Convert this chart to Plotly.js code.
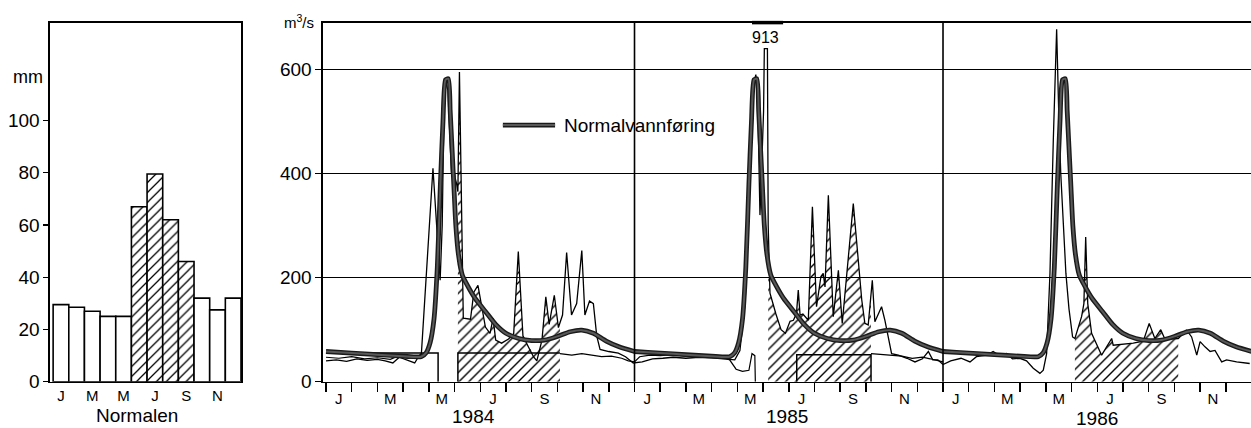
<!DOCTYPE html>
<html><head><meta charset="utf-8">
<script src="https://cdn.plot.ly/plotly-3.0.1.min.js"></script>
<style>html,body{margin:0;padding:0;background:#fff}#chart{width:1251px;height:428px}</style>
</head><body><div id="chart"></div>
<script>
// ---------- data ----------
const precipMonths = ['J','F','M','A','M','J','J','A','S','O','N','D'];
const precipValues = [29.5, 28.5, 27, 25, 25, 67, 79.5, 62, 46, 32, 27.5, 32];
const precipHatched = [false,false,false,false,false,true,true,true,true,false,false,false];
const monthTickText = ['J','M','M','J','S','N'];
const monthTickPos = [0.5, 2.5, 4.5, 6.5, 8.5, 10.5];
const years = [1984, 1985, 1986];

// normal discharge, one year (month of year, m3/s)
const normalMonth = [0,1,2,3,3.7,3.9,4.05,4.2,4.33,4.45,4.55,4.65,4.76,4.83,4.9,4.97,5.05,5.15,5.3,5.5,5.8,6.2,6.6,7.0,7.5,8.0,8.5,9.0,9.5,9.95,10.4,10.9,11.4,12.0];
const normalFlow  = [58,55,52,49,48,56,75,120,220,380,500,580,582,520,450,380,300,245,205,185,160,135,110,93,83,79,80,87,96,99,93,78,67,58];

// observed discharge 1984-1986 (months since Jan 1984, m3/s)
const obsMonth = [0,0.4,0.8,1.2,1.6,2.0,2.3,2.6,2.85,3.1,3.45,3.62,3.71,4.16,4.3,4.44,4.52,4.58,4.65,4.74,4.82,4.88,4.95,5.02,5.08,5.13,5.19,5.26,5.31,5.34,5.62,5.75,5.91,6.05,6.2,6.38,6.5,6.6,6.83,7.1,7.3,7.48,7.66,7.87,8.07,8.2,8.4,8.55,8.68,8.88,9.04,9.2,9.36,9.55,9.75,9.95,10.07,10.25,10.4,10.53,10.66,11.0,11.37,11.65,11.95,
 12.3,12.7,13.1,13.5,14.0,14.5,15.0,15.5,15.9,16.1,16.3,16.45,16.55,16.65,16.72,16.8,16.88,16.96,17.02,17.05,17.17,17.2,17.27,17.5,17.7,17.87,18.05,18.18,18.3,18.37,18.44,18.55,18.76,18.92,19.08,19.25,19.34,19.41,19.54,19.73,19.93,20.08,20.51,20.84,20.96,21.09,21.25,21.35,21.61,21.74,22.0,22.26,22.6,22.91,23.2,23.43,23.6,23.8,24.0,
 24.3,24.7,25.05,25.3,25.7,25.95,26.2,26.47,26.7,26.99,27.25,27.51,27.77,27.9,28.03,28.16,28.29,28.42,28.5,28.58,28.68,28.78,28.9,29.04,29.13,29.39,29.48,29.55,29.63,29.78,30.17,30.49,30.56,30.62,31.0,31.4,31.79,32.02,32.24,32.47,32.63,33.15,33.48,33.67,33.87,34.0,34.19,34.39,34.58,34.84,35.03,35.42,35.93];
const obsFlow = [40,42,39,44,41,43,40,36,47,42,36,50,54,410,300,195,300,500,576,560,470,400,420,392,380,365,595,360,200,122,120,172,185,144,105,93,122,80,74,82,92,250,88,67,48,40,80,163,110,166,104,128,248,128,150,252,128,155,150,88,62,58,55,48,36,
 38,44,45,47,45,47,46,44,42,60,150,330,480,575,590,520,320,430,520,913,913,300,170,130,100,93,116,118,131,176,128,130,118,336,144,202,208,182,358,125,214,112,342,157,112,109,195,115,144,118,54,51,45,38,44,58,42,42,33,
 40,45,38,48,51,58,50,54,44,45,40,26,16,22,54,208,464,677,520,400,304,208,140,86,83,125,150,278,150,93,51,77,83,70,72,74,78,112,83,100,82,83,99,86,51,77,67,58,60,38,42,38,35];
// the 913 peak is drawn truncated below the frame, with its value written above
const peakLabelFlow = 913;
const peakDrawCap = 640;

// regulated (low) discharge, null = no line
const regMonth = [0,0.5,1.0,1.5,2.0,2.5,2.8,3.2,3.6,3.71,null,9.1,9.56,9.95,10.33,10.72,11.1,11.5,11.76,12.0,12.2,12.6,13.0,13.5,14.0,14.5,15.0,15.4,15.7,15.95,16.2,16.45,16.57,16.68,16.7,null,21.2,21.6,22.0,22.4,22.8,23.2,23.5,23.8,24.0];
const regFlow  = [47,45,48,44,46,43,49,45,48,52,null,54,51,54,51,48,49,45,40,38,48,51,50,52,49,51,50,48,42,24,20,22,54,50,0,null,54,52,50,49,45,47,44,40,38];

// step outline (minimum release): 1984 winter block and summer blocks
const stepWinterMonth = [0, 4.36, 4.36];
const stepWinterFlow  = [55, 55, 0];
const stepSummer84Month = [5.13, 5.13, 9.1];
const stepSummer84Flow  = [0, 55, 55];
const stepSummer85Month = [18.31, 18.31, 21.2, 21.2];
const stepSummer85Flow  = [0, 52, 52, 0];

// hatched summer periods (Jun-Sep) under observed discharge (not below the step level)
const hatchStart = [5.13, 17.2, 29.13];
const hatchEnd   = [9.1, 21.2, 33.15];
const hatchFloor = [55, 52, 0];

// ---------- build ----------
const FONT = 'Liberation Sans, Arial, Helvetica, sans-serif';
const normalX = [], normalY = [];
years.forEach((yr, i) => {
  normalMonth.forEach((m, j) => { normalX.push(m + 12 * i); normalY.push(normalFlow[j]); });
});
const obsDrawn = obsFlow.map(v => v >= peakLabelFlow ? peakDrawCap : v);
function interp(xs, ys, x) {
  for (let i = 0; i < xs.length - 1; i++) {
    if (xs[i] <= x && x <= xs[i + 1]) {
      const t = (x - xs[i]) / (xs[i + 1] - xs[i] || 1);
      return ys[i] + t * (ys[i + 1] - ys[i]);
    }
  }
  return ys[ys.length - 1];
}
const pattern = {shape: '/', size: 7, solidity: 0.2, fgcolor: '#000', bgcolor: 'rgba(255,255,255,0)'};
const traces = [];

// left: precipitation normals
traces.push({
  type: 'bar', x: precipMonths.map((_, i) => i), y: precipValues, width: 1,
  xaxis: 'x', yaxis: 'y',
  marker: {color: 'white', line: {color: 'black', width: 1.6},
    pattern: {shape: precipHatched.map(h => h ? '/' : ''), size: 7, solidity: 0.18, fgcolor: 'black', bgcolor: 'white'}},
  hoverinfo: 'skip', showlegend: false
});

// hatch fills
hatchStart.forEach((s, k) => {
  const e = hatchEnd[k], f = hatchFloor[k];
  const hx = [s, s], hy = [0, Math.max(f, interp(obsMonth, obsDrawn, s))];
  obsMonth.forEach((m, i) => { if (m > s && m < e) { hx.push(m); hy.push(Math.max(f, obsDrawn[i])); } });
  hx.push(e, e); hy.push(Math.max(f, interp(obsMonth, obsDrawn, e)), 0);
  traces.push({type: 'scatter', mode: 'lines', x: hx, y: hy, xaxis: 'x2', yaxis: 'y2',
    fill: 'toself', fillcolor: 'rgba(0,0,0,0)', fillpattern: pattern, line: {width: 0}, hoverinfo: 'skip', showlegend: false});
});
[[stepWinterMonth, stepWinterFlow], [stepSummer84Month, stepSummer84Flow], [stepSummer85Month, stepSummer85Flow]].forEach(([mx, fy]) => {
  traces.push({type: 'scatter', mode: 'lines', x: mx, y: fy, xaxis: 'x2', yaxis: 'y2',
    line: {color: 'black', width: 1.5}, hoverinfo: 'skip', showlegend: false});
});

// regulated and observed
traces.push({type: 'scatter', mode: 'lines', x: regMonth, y: regFlow, xaxis: 'x2', yaxis: 'y2', connectgaps: false,
  line: {color: 'black', width: 1.2}, hoverinfo: 'skip', showlegend: false});
traces.push({type: 'scatter', mode: 'lines', x: obsMonth, y: obsDrawn, xaxis: 'x2', yaxis: 'y2',
  line: {color: 'black', width: 1.3}, hoverinfo: 'skip', showlegend: false});
// normal (thick)
traces.push({type: 'scatter', mode: 'lines', x: normalX, y: normalY, xaxis: 'x2', yaxis: 'y2',
  line: {color: '#1a1a1a', width: 4.8, shape: 'spline', smoothing: 0.6}, hoverinfo: 'skip', showlegend: false});
traces.push({type: 'scatter', mode: 'lines', x: normalX, y: normalY, xaxis: 'x2', yaxis: 'y2',
  line: {color: '#585858', width: 2, shape: 'spline', smoothing: 0.6}, hoverinfo: 'skip', showlegend: false});

const mainTickVals = [], mainTickText = [];
years.forEach((yr, i) => monthTickPos.forEach((p, j) => { mainTickVals.push(p + 12 * i); mainTickText.push(monthTickText[j]); }));
const peakIdx = obsFlow.indexOf(peakLabelFlow);

const yDom = [(428 - 381.7) / 428, (428 - 22.6) / 428];
const layout = {
  width: 1251, height: 428, margin: {l: 0, r: 0, t: 0, b: 0},
  paper_bgcolor: 'white', plot_bgcolor: 'white', showlegend: false,
  font: {family: FONT, color: 'black', size: 18},
  bargap: 0,
  xaxis: {domain: [50 / 1251, 241 / 1251], range: [-0.7, 11.5], showline: true, linecolor: 'black', linewidth: 1.6, mirror: true,
    tickmode: 'array', tickvals: [0, 2, 4, 6, 8, 10], ticktext: monthTickText, ticks: '',
    tickfont: {size: 15}, showgrid: false, zeroline: false, fixedrange: true},
  yaxis: {domain: yDom, range: [0, 137.5], showline: true, linecolor: 'black', linewidth: 1.6, mirror: true,
    tickmode: 'array', tickvals: [0, 20, 40, 60, 80, 100], ticks: 'outside', ticklen: 5, tickwidth: 1.4, tickcolor: 'black',
    tickfont: {size: 19}, showgrid: false, zeroline: false},
  xaxis2: {domain: [323 / 1251, 1], range: [-0.117, 35.98], anchor: 'y2', showline: true, linecolor: 'black', linewidth: 1.6, mirror: true,
    tickmode: 'array', tickvals: mainTickVals, ticktext: mainTickText, ticks: 'outside', ticklen: 3, tickcolor: 'rgba(0,0,0,0)',
    tickfont: {size: 15}, showgrid: false, zeroline: false,
    minor: {tickmode: 'linear', tick0: 0, dtick: 1, ticks: 'outside', ticklen: 9, tickwidth: 1.5, tickcolor: 'black', showgrid: false}},
  yaxis2: {domain: yDom, range: [0, 689.8], anchor: 'x2', showline: true, linecolor: 'black', linewidth: 1.6,
    tickmode: 'array', tickvals: [0, 200, 400, 600], ticks: 'outside', ticklen: 6, tickwidth: 1.4, tickcolor: 'black',
    tickfont: {size: 19}, showgrid: true, gridcolor: 'black', gridwidth: 1.3, zeroline: false},
  shapes: [
    {type: 'line', xref: 'x2', yref: 'y2 domain', x0: 12, x1: 12, y0: 0, y1: 1, line: {color: 'black', width: 1.6}},
    {type: 'line', xref: 'x2', yref: 'y2 domain', x0: 24, x1: 24, y0: 0, y1: 1, line: {color: 'black', width: 1.6}},
    {type: 'line', xref: 'x2', yref: 'y2 domain', x0: 16.57, x1: 17.78, y0: 1, y1: 1, line: {color: 'black', width: 3.5}},
    {type: 'line', xref: 'x2', yref: 'y2', x0: 6.88, x1: 8.91, y0: 493, y1: 493, line: {color: '#1a1a1a', width: 4.8}},
    {type: 'line', xref: 'x2', yref: 'y2', x0: 6.88, x1: 8.91, y0: 493, y1: 493, line: {color: '#585858', width: 2}}
  ],
  annotations: [
    {xref: 'paper', yref: 'paper', x: 28 / 1251, y: (428 - 77) / 428, text: 'mm', showarrow: false, font: {size: 18}, xanchor: 'center', yanchor: 'middle'},
    {xref: 'paper', yref: 'paper', x: 137 / 1251, y: (428 - 415) / 428, text: 'Normalen', showarrow: false, font: {size: 19}, xanchor: 'center', yanchor: 'middle'},
    {xref: 'paper', yref: 'paper', x: 316 / 1251, y: (428 - 21) / 428, text: 'm<sup>3</sup>/s', showarrow: false, font: {size: 15}, xanchor: 'right', yanchor: 'middle'},
    {xref: 'x2', yref: 'paper', x: (obsMonth[peakIdx] + obsMonth[peakIdx + 1]) / 2, y: (428 - 37) / 428, text: String(peakLabelFlow), showarrow: false, font: {size: 16}, xanchor: 'center', yanchor: 'middle'},
    {xref: 'x2', yref: 'y2', x: 9.18, y: 493, text: 'Normalvannføring', showarrow: false, font: {size: 19}, xanchor: 'left', yanchor: 'middle'},
    {xref: 'x2', yref: 'paper', x: 5.75, y: (428 - 416) / 428, text: String(years[0]), showarrow: false, font: {size: 19}, xanchor: 'center', yanchor: 'middle'},
    {xref: 'x2', yref: 'paper', x: 17.95, y: (428 - 416) / 428, text: String(years[1]), showarrow: false, font: {size: 19}, xanchor: 'center', yanchor: 'middle'},
    {xref: 'x2', yref: 'paper', x: 30.0, y: (428 - 418) / 428, text: String(years[2]), showarrow: false, font: {size: 19}, xanchor: 'center', yanchor: 'middle'}
  ]
};
Plotly.newPlot('chart', traces, layout, {displayModeBar: false, staticPlot: true});
</script></body></html>
